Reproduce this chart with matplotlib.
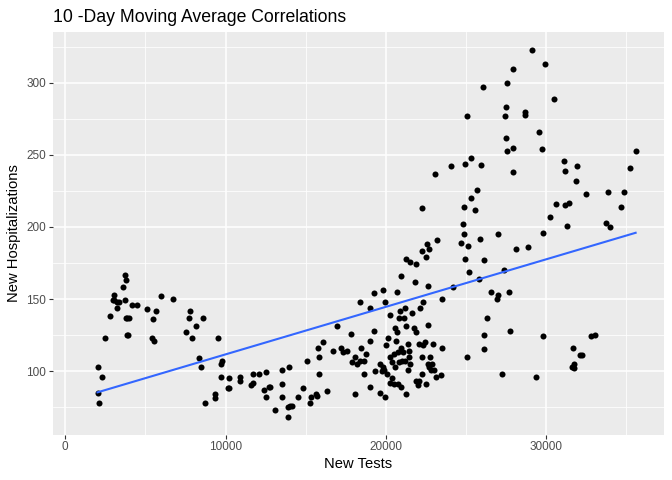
import numpy as np
import matplotlib.pyplot as plt

plt.rcParams['font.family'] = ['Liberation Sans', 'DejaVu Sans']

# new tests / new hospitalizations (10-day moving averages)
tests_low = [3700, 3760, 3630, 3070, 2950, 3070, 3200, 3380, 3700, 3200,
             4190, 4500, 2760, 3760, 3840, 3950, 2450, 3820, 3900, 2010,
             2260, 2010, 2080, 5070, 5690, 6000, 6750, 5500, 5440, 5560,
             7810, 7740, 8620, 7500, 8180, 7930, 9550, 8370, 8490, 9800,
             9740, 9740, 10240, 10920, 10920, 10130, 10240, 8740, 9360, 9360]
hosp_low = [167, 163, 158, 153, 149, 149, 148, 148, 149, 144,
            146, 146, 138, 137, 137, 137, 123, 125, 125, 103,
            96, 85, 78, 143, 142, 152, 150, 136, 123, 121,
            142, 137, 137, 127, 131, 123, 123, 109, 103, 107,
            105, 96, 95, 96, 93, 88, 88, 78, 84, 81]

tests_mid = [11730, 11600, 11730, 12100, 12540, 12410, 12540, 12720, 12790, 13100,
             13530, 13530, 13530, 13970, 13910, 13910, 14030, 14160, 14530, 14840,
             15090, 15280, 15340, 15650, 15710, 15780, 15840, 15840, 16090, 16340,
             16710, 16960, 17210, 17330, 17580]
hosp_mid = [98, 90, 92, 98, 99, 87, 82, 89, 89, 73,
            101, 91, 82, 103, 68, 75, 76, 76, 82, 88,
            107, 78, 82, 84, 83, 116, 110, 98, 120, 86,
            114, 131, 116, 113, 114]

tests_upper = [23060, 24060, 24930, 25300, 25930, 25680, 25300, 22250, 24870, 25550,
               24810, 24870, 25860, 26990, 23190, 22560, 22690, 22250, 22500, 21260,
               21510, 21880, 24680, 25120, 24930, 26110]
hosp_upper = [237, 242, 244, 248, 243, 226, 220, 213, 214, 212,
              202, 195, 192, 195, 191, 188, 185, 183, 179, 178,
              176, 174, 189, 187, 178, 177]

tests_cluster = [20940, 21820, 25180, 25800, 22630, 24180, 19260, 19820, 20700, 18390,
                 19950, 22310, 23500, 26550, 26990, 26920, 19010, 21190, 20880, 22130,
                 21630, 20260, 20820, 21130, 26300, 21260, 22630, 20570, 21750, 21880,
                 19260, 20700, 17850, 26110, 26110, 25060, 20130, 19010, 20630, 21380,
                 22070, 22440, 22310, 22940, 23500, 20010, 20940, 21440, 18450, 18760,
                 18080, 17890, 18200, 18390, 18640, 20260, 20510, 20760, 21070, 20380,
                 20570, 20820, 21010, 21190, 21440, 21510, 21380, 22250, 22750, 22630,
                 22690, 22880, 23000, 22810, 19330, 18640, 19640, 19820, 19890, 20070,
                 19760, 22250, 23120, 23440, 20380, 20260, 20510, 20760, 20940, 21900,
                 22070, 22000, 22500, 19010, 19640, 19950, 18080, 21260]
hosp_cluster = [166, 162, 169, 164, 159, 158, 154, 156, 155, 148,
                148, 148, 150, 155, 153, 150, 144, 144, 142, 144,
                140, 139, 137, 137, 137, 131, 132, 130, 130, 127,
                128, 127, 126, 125, 115, 110, 123, 121, 121, 119,
                119, 120, 118, 119, 116, 118, 116, 114, 116, 112,
                110, 106, 105, 107, 107, 110, 112, 113, 113, 106,
                103, 106, 107, 107, 110, 105, 101, 110, 110, 105,
                103, 105, 101, 101, 100, 98, 105, 103, 101, 98,
                100, 98, 96, 97, 95, 92, 91, 91, 89, 93,
                93, 90, 91, 89, 85, 82, 84, 84]

tests_high = [29100, 29910, 27920, 27550, 26050, 30470, 27480, 28670, 28670, 25050,
              27420, 29540, 27480, 27550, 27920, 29730, 35580, 31100, 31900, 31160,
              35210, 27920, 31840, 32470, 33840, 34830, 30600, 31160, 31410, 34650,
              30220, 31280, 33710, 33960, 29790, 28110, 28850, 27360, 27670, 27730,
              29790, 27230, 29350, 31660, 32780, 33030, 32090, 32220, 31720, 31590,
              31720]
hosp_high = [323, 313, 310, 300, 297, 289, 283, 280, 278, 277,
             277, 266, 262, 253, 255, 254, 253, 246, 242, 239,
             241, 238, 232, 223, 224, 224, 216, 215, 217, 214,
             207, 201, 203, 200, 196, 185, 186, 170, 155, 128,
             124, 98, 96, 116, 124, 125, 111, 111, 105, 103,
             102]

tests = np.array(tests_low + tests_mid + tests_upper + tests_cluster + tests_high, dtype=float)
hosp = np.array(hosp_low + hosp_mid + hosp_upper + hosp_cluster + hosp_high, dtype=float)

# linear fit like geom_smooth(method = "lm", se = FALSE)
slope, intercept = np.polyfit(tests, hosp, 1)
xs = np.linspace(tests.min(), tests.max(), 80)

fig = plt.figure(figsize=(6.72, 4.8), dpi=100)
ax = fig.add_axes([0.0784, 0.0944, 0.9097, 0.8390])
ax.set_facecolor('#EBEBEB')
for s in ax.spines.values():
    s.set_visible(False)

ax.set_xlim(-786, 37350)
ax.set_ylim(55.8, 335.4)
ax.set_xticks([0, 10000, 20000, 30000])
ax.set_xticks([5000, 15000, 25000, 35000], minor=True)
ax.set_yticks([100, 150, 200, 250, 300])
ax.set_yticks([75, 125, 175, 225, 275, 325], minor=True)
ax.grid(which='major', color='white', linewidth=1.1)
ax.grid(which='minor', color='white', linewidth=0.55)
ax.set_axisbelow(True)
ax.tick_params(which='major', length=2.7, width=0.8, color='#333333',
               labelcolor='#4D4D4D', labelsize=8.5, pad=2)
ax.tick_params(which='minor', length=0)

ax.scatter(tests, hosp, s=19, color='black', linewidths=0, zorder=3)
ax.plot(xs, intercept + slope * xs, color='#3366FF', linewidth=1.5, zorder=4)

ax.set_xlabel('New Tests', fontsize=10.6, labelpad=3)
ax.set_ylabel('New Hospitalizations', fontsize=10.6, labelpad=4)
fig.text(0.0793, 0.954, '10 -Day Moving Average Correlations', fontsize=12.7,
         ha='left', va='baseline')

fig.savefig('out.png', dpi=100)
